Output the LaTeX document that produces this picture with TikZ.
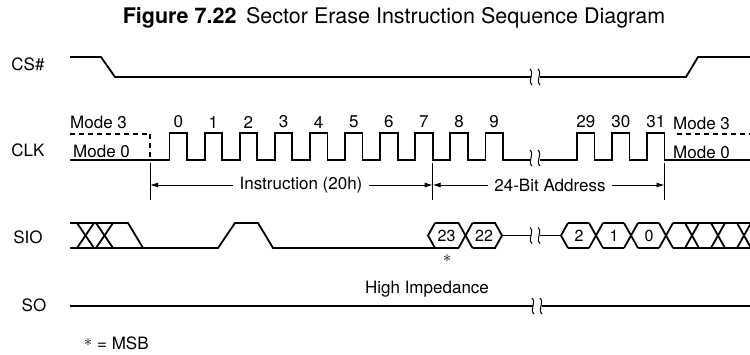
\documentclass[tikz,border=0pt]{standalone}
\usepackage{fontspec}
\setmainfont{TeX Gyre Heros}
\usetikzlibrary{arrows.meta}
\newcommand\sigbreak[2]{%
  \draw[brk] ({#1-1},{#2-8}) .. controls ({#1+4},{#2-3}) and ({#1-4},{#2+3}) .. ({#1+1},{#2+8});
  \draw[brk] ({#1+7},{#2-8}) .. controls ({#1+12},{#2-3}) and ({#1+4},{#2+3}) .. ({#1+9},{#2+8});
}
\newcommand\xcross[1]{%
  \draw[sig] ({#1-7},223) -- ({#1+7},248);
  \draw[sig] ({#1-7},248) -- ({#1+7},223);
}
\begin{document}
\begin{tikzpicture}[x=1pt,y=-1pt,
  sig/.style={line width=1.8pt, line join=miter, line cap=butt},
  brk/.style={line width=1pt},
  dim/.style={line width=0.9pt},
  dimarrow/.style={line width=0.9pt, -{Latex[length=8pt,width=5pt]}},
  lbl/.style={font=\fontsize{17}{20}\selectfont, inner sep=0pt},
  hexlbl/.style={font=\fontsize{16}{18}\selectfont, inner sep=0pt},
  star/.style={inner sep=0pt, scale=1.7},
  dashedline/.style={line width=1.5pt, dash pattern=on 5pt off 4pt}]
\useasboundingbox (0,0) rectangle (750,355);
\clip (0,0) rectangle (750,355);

% title
\node[font=\fontsize{21.5}{24}\selectfont, inner sep=0pt] (title) at (394,18)
  {\textbf{Figure 7.22}\hspace{0.45em}Sector Erase Instruction Sequence Diagram};

% signal labels
\node[lbl] (lcs) at (28,64) {CS\#};
\node[lbl] (lclk) at (28,150) {CLK};
\node[lbl] (lsio) at (28,237) {SIO};
\node[lbl] (lso) at (34,305) {SO};

% CS#
\draw[sig] (70,57) -- (101,57) -- (115,77) -- (531,77);
\draw[sig] (540,77) -- (686,77) -- (698,57) -- (750,57);
\sigbreak{531}{77}

% CLK
\draw[dashedline] (70,134) -- (150,134);
\draw[dashedline] (150,134) -- (150,160);
\draw[sig] (70,160)
  \foreach \k in {0,...,9} {
    -- ({169.5+35.1*\k},160) -- ({169.5+35.1*\k},133)
    -- ({187+35.1*\k},133) -- ({187+35.1*\k},160) }
  -- (531,160);
\draw[sig] (540,160)
  \foreach \s in {577,612,647} {
    -- (\s,160) -- (\s,133) -- ({\s+17.5},133) -- ({\s+17.5},160) }
  -- (750,160);
\sigbreak{531}{158}
\draw[dashedline] (677,134) -- (750,134);

\node[lbl, anchor=west] (m3l) at (70,122) {Mode 3};
\node[lbl, anchor=west] (m0l) at (73,151) {Mode 0};
\node[lbl, anchor=west] (m3r) at (673,123) {Mode 3};
\node[lbl, anchor=west] (m0r) at (673,152) {Mode 0};

\foreach \k in {0,...,9} {
  \node[lbl] (n\k) at ({178.25+35.1*\k},122) {\k};
}
\node[lbl] (n29) at (585.75,122) {29};
\node[lbl] (n30) at (620.75,122) {30};
\node[lbl] (n31) at (655.75,122) {31};

% dimension lines
\coordinate (va) at (150,185);
\coordinate (vb) at (432.7,185);
\coordinate (vc) at (664.5,185);
\draw[dim] (150,163) -- (150,200);
\draw[dim] (432.7,163) -- (432.7,200);
\draw[dim] (664.5,163) -- (664.5,200);
\node[lbl, inner xsep=6pt] (instr) at (301,185) {Instruction (20h)};
\node[lbl, inner xsep=6pt] (addr) at (550,185) {24-Bit Address};
\draw[dimarrow] (instr.west) -- (va);
\draw[dimarrow] (instr.east) -- (vb);
\draw[dimarrow] (addr.west) -- (vb);
\draw[dimarrow] (addr.east) -- (vc);

% SIO
\draw[sig] (70,223) -- (128,223) -- (143,248);
\draw[sig] (70,248) -- (218,248) -- (235,223) -- (258,223) -- (273,248) -- (435,248);
\draw[sig] (77,223) -- (94,248);
\draw[sig] (77,248) -- (94,223);
\draw[sig] (96,223) -- (113,248);
\draw[sig] (96,248) -- (113,223);
% hex 23 / 22
\draw[sig] (435,223) -- (428,235.5) -- (435,248);
\draw[sig] (435,223) -- (458.5,223);
\draw[sig] (435,248) -- (458.5,248);
\xcross{465.5}
\draw[sig] (472.5,223) -- (495,223) -- (502,235.5) -- (495,248) -- (472.5,248);
\draw[sig] (502,235.5) -- (531,235.5);
\sigbreak{531}{235.5}
\draw[sig] (540,235.5) -- (561,235.5);
\draw[sig] (568,223) -- (561,235.5) -- (568,248);
\draw[sig] (568,223) -- (589,223);
\draw[sig] (568,248) -- (589,248);
\xcross{596}
\draw[sig] (603,223) -- (624,223);
\draw[sig] (603,248) -- (624,248);
\xcross{631}
\draw[sig] (638,223) -- (659,223);
\draw[sig] (638,248) -- (659,248);
\foreach \c in {666,692,718,744} { \xcross{\c} }
\draw[sig] (673,223) -- (750,223);
\draw[sig] (673,248) -- (750,248);

\node[hexlbl] (h23) at (446.5,236) {23};
\node[hexlbl] (h22) at (484,236) {22};
\node[hexlbl] (h2) at (579,236) {2};
\node[hexlbl] (h1) at (614,236) {1};
\node[hexlbl] (h0) at (649,236) {0};
\node[star] (msbstar) at (447,259) {$\ast$};

% SO
\draw[sig] (70,306) -- (533,306);
\draw[sig] (542,306) -- (750,306);
\sigbreak{533}{306}
\node[lbl] (hiz) at (427,289) {High Impedance};

% note
\node[star] (notestar) at (88,343) {$\ast$};
\node[lbl, anchor=west] (note) at (97,343) {= MSB};
\end{tikzpicture}
\end{document}
